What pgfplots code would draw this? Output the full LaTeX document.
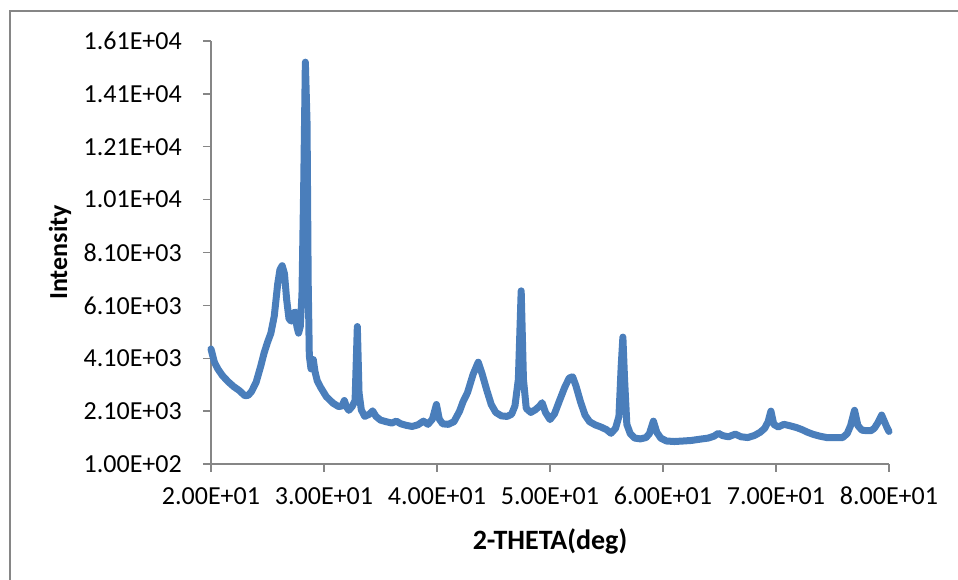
\documentclass[border=0pt]{standalone}
\usepackage{pgfplots}
\pgfplotsset{compat=1.18}
\usepackage{fontspec}
\setmainfont{Carlito}
\definecolor{xrdblue}{RGB}{74,126,187}
\definecolor{axgray}{RGB}{134,134,134}
\begin{document}
\begin{tikzpicture}[x=1pt,y=1pt]
\useasboundingbox (0,0) rectangle (958,580);
\draw[axgray, line width=1.3pt] (10,0) -- (10,569) -- (958,569);
\begin{axis}[
  at={(211pt,116pt)}, anchor=south west,
  scale only axis, width=678pt, height=423pt,
  xmin=20, xmax=80, ymin=100, ymax=16100,
  scaled y ticks=false, scaled x ticks=false,
  axis x line=bottom, axis y line=left,
  axis line style={-, axgray, line width=1.3pt},
  tick style={axgray, line width=1.3pt},
  major tick length=8pt, tick align=outside,
  xtick={20,30,40,50,60,70,80},
  xticklabels={2.00E+01,3.00E+01,4.00E+01,5.00E+01,6.00E+01,7.00E+01,8.00E+01},
  ytick={100,2100,4100,6100,8100,10100,12100,14100,16100},
  yticklabels={1.00E+02,2.10E+03,4.10E+03,6.10E+03,8.10E+03,1.01E+04,1.21E+04,1.41E+04,1.61E+04},
  tick label style={font=\fontsize{26}{30}\selectfont, text=black},
  yticklabel style={anchor=east, inner sep=0pt, xshift=-21pt},
  xticklabel style={anchor=north, inner sep=0pt, yshift=-15pt},
  xlabel={\textbf{2-THETA(deg)}},
  ylabel={\textbf{Intensity}},
  label style={font=\fontsize{26}{30}\selectfont},
  xlabel style={at={(axis description cs:0.5,-0.182)}, anchor=center, font=\fontsize{28}{32}\selectfont},
  ylabel style={at={(axis description cs:-0.2227,0.5)}, anchor=center, rotate=0},
  clip=false,
]
\addplot[xrdblue, line width=7pt, line join=round, line cap=round] coordinates {
(20.0,4450) (20.3,3950) (20.6,3700) (21.0,3450) (21.5,3220) (22.0,3030)
(22.5,2880) (23.0,2680) (23.3,2700) (23.6,2850) (24.0,3200) (24.4,3800)
(24.7,4300) (25.0,4700) (25.3,5050) (25.6,5700) (25.9,6900) (26.1,7450)
(26.3,7600) (26.5,7300) (26.7,6300) (26.9,5600) (27.1,5500) (27.3,5800)
(27.45,5850) (27.6,5300) (27.75,5050) (27.9,5300) (28.05,6500) (28.2,10500)
(28.35,15300) (28.5,13000) (28.6,7000) (28.7,4200) (28.85,3700) (29.05,4050)
(29.2,3600) (29.4,3250) (29.7,3000) (30.2,2650) (30.8,2400) (31.3,2270)
(31.6,2300) (31.8,2500) (32.0,2250) (32.2,2130) (32.5,2280) (32.75,2500)
(32.95,5300) (33.1,2800) (33.3,2150) (33.6,1900) (34.0,1980) (34.3,2110)
(34.6,1900) (35.0,1760) (35.5,1700) (36.0,1650) (36.4,1720) (36.8,1620)
(37.3,1560) (37.8,1520) (38.3,1580) (38.8,1720) (39.2,1600) (39.6,1800)
(39.95,2350) (40.2,1800) (40.5,1620) (41.0,1600) (41.5,1700) (42.0,2100)
(42.3,2450) (42.7,2800) (43.2,3500) (43.65,3950) (44.0,3500) (44.4,2900)
(44.8,2350) (45.2,2050) (45.7,1920) (46.2,1900) (46.6,1980) (46.9,2300)
(47.2,3300) (47.45,6650) (47.65,3300) (47.9,2200) (48.3,2050) (48.7,2150)
(49.1,2300) (49.3,2420) (49.6,2050) (50.0,1780) (50.4,2000) (50.8,2450)
(51.3,3000) (51.7,3350) (52.0,3400) (52.3,3050) (52.7,2450) (53.1,1950)
(53.5,1700) (54.0,1580) (54.5,1500) (55.0,1400) (55.4,1260) (55.8,1450)
(56.1,1900) (56.3,3800) (56.45,4900) (56.6,3300) (56.8,1600) (57.1,1250)
(57.5,1080) (58.0,1050) (58.5,1100) (58.8,1250) (59.15,1720) (59.45,1300)
(59.8,1080) (60.3,970) (61.0,950) (61.8,970) (62.5,990) (63.3,1040)
(64.0,1080) (64.5,1150) (64.9,1260) (65.3,1170) (65.8,1130) (66.4,1230)
(66.9,1130) (67.5,1100) (68.1,1180) (68.6,1300) (69.0,1450) (69.3,1700)
(69.55,2100) (69.8,1600) (70.2,1500) (70.7,1600) (71.2,1550) (71.8,1480)
(72.3,1400) (72.8,1300) (73.3,1220) (73.9,1150) (74.5,1100) (75.2,1100)
(75.9,1100) (76.3,1250) (76.6,1550) (76.95,2130) (77.25,1550) (77.6,1380)
(78.0,1360) (78.4,1360) (78.7,1450) (79.0,1650) (79.35,1950) (79.6,1700)
(79.8,1500) (80.0,1330)
};
\end{axis}
\end{tikzpicture}
\end{document}
